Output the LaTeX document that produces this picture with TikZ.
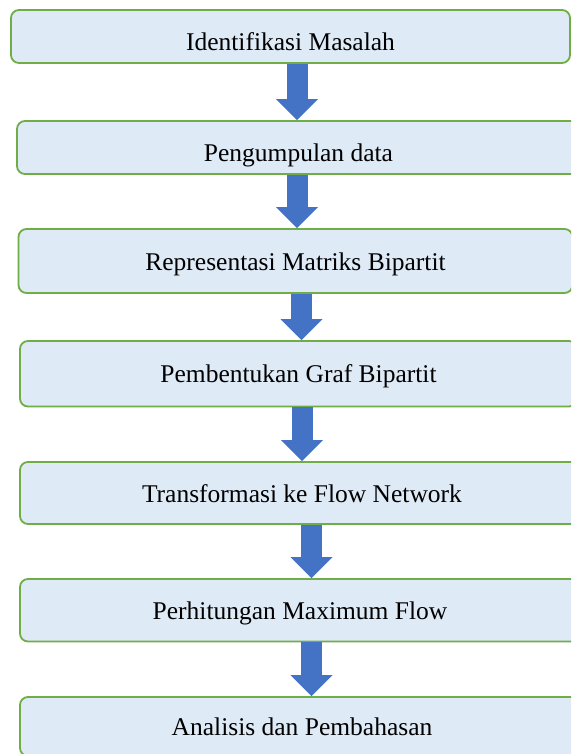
\documentclass[tikz,border=0pt]{standalone}
\usepackage{fontspec}
\setmainfont{Liberation Serif}
\usetikzlibrary{arrows.meta}

\definecolor{boxfill}{RGB}{222,234,246}
\definecolor{boxline}{RGB}{112,173,71}
\definecolor{flowblue}{RGB}{68,114,196}

\tikzset{
  stagebox/.style={draw=boxline, fill=boxfill, line width=1.8pt,
    rounded corners=8pt, inner sep=0pt, text depth=5pt,
    font=\fontsize{25.5}{30}\selectfont},
  flow/.style={draw=flowblue, line width=21pt,
    -{Triangle[width=42pt, length=21pt, line width=0pt]}}
}

\begin{document}
\begin{tikzpicture}[x=1pt, y=-1pt]
    \clip (0, 0) rectangle (571, 754);
    \fill[white] (0, 0) rectangle (571, 754);

    % stages: index / left / top / right / bottom / text drop / label
    \foreach \i/\l/\t/\r/\b/\sh/\lbl in {
        1/11/10/570/63/8/{Identifikasi Masalah},
        2/17/121/580/174/7/{Pengumpulan data},
        3/18.5/229/572.5/293/3/{Representasi Matriks Bipartit},
        4/20/341/577/406.5/2/{Pembentukan Graf Bipartit},
        5/20/462/584/524/3/{Transformasi ke Flow Network},
        6/20/579/580/641.5/3/{Perhitungan Maximum Flow},
        7/20/697/584/756/2/{Analisis dan Pembahasan}} {
      \node[stagebox, text height={(18+2*\sh)*1pt},
        minimum width={(\r-\l)*1pt}, minimum height={(\b-\t)*1pt}]
        (s\i) at ({(\l+\r)/2}, {(\t+\b)/2}) {\lbl};
    }

    % block arrows between stages
    \foreach \i/\j/\x in {1/2/297, 2/3/297, 3/4/301.5, 4/5/302, 5/6/311.5, 6/7/311.5} {
      \coordinate (c\i) at (\x, 0);
      \draw[flow] (s\i.south -| c\i) -- (s\j.north -| c\i);
    }
  \end{tikzpicture}
\end{document}
